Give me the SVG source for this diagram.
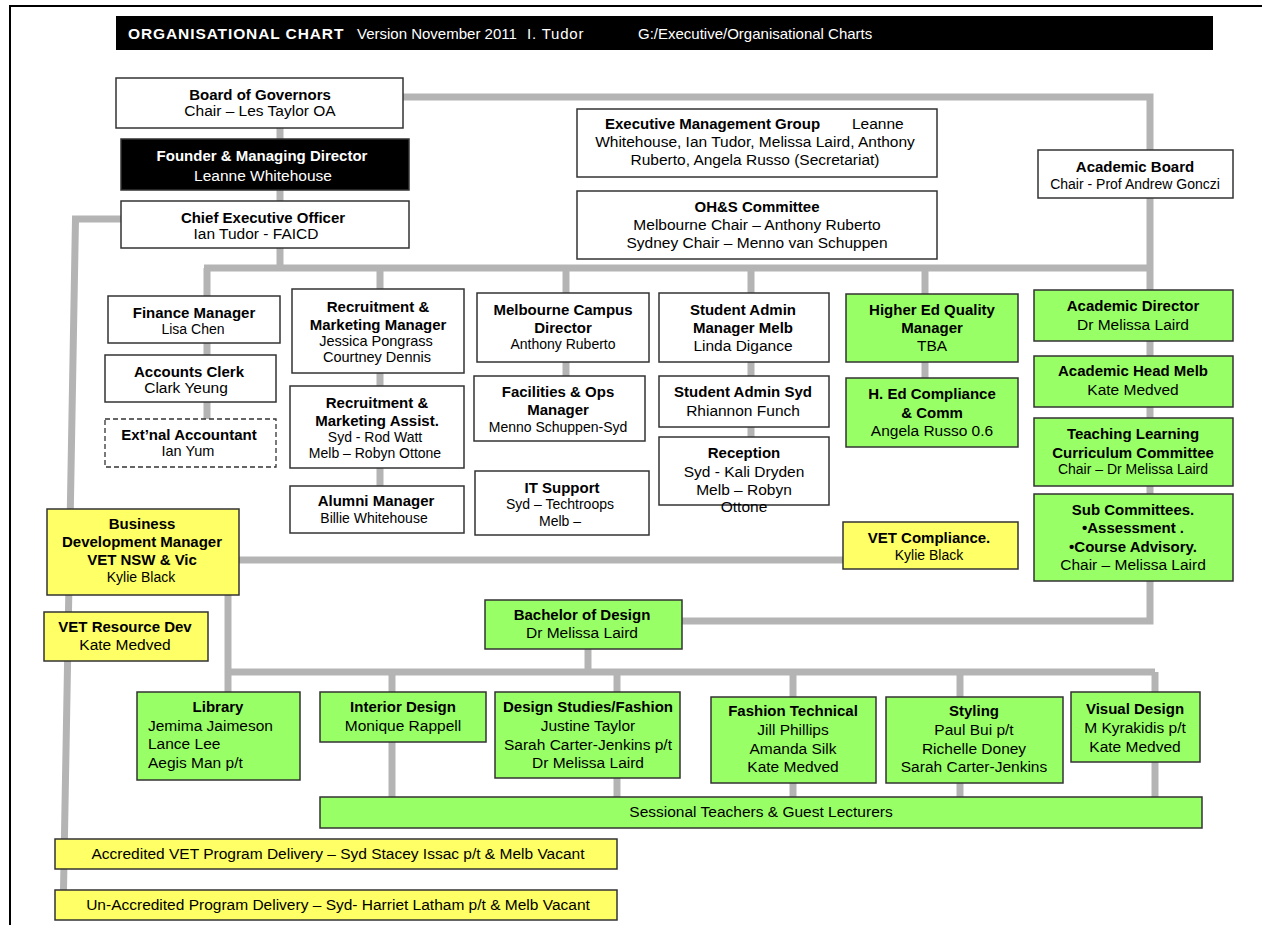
<svg xmlns="http://www.w3.org/2000/svg" width="1262" height="925" viewBox="0 0 1262 925">
<style>
text{font-family:"Liberation Sans",Arial,sans-serif;font-size:15.5px;fill:#000}
.b{font-weight:bold;font-size:15px}
.s{font-size:14px}
.c{text-anchor:middle}
.wt{fill:#fff}
.h{font-size:15px;fill:#fff}
.w{fill:#fff;stroke:#333;stroke-width:1.5}
.g{fill:#99ff66;stroke:#333;stroke-width:1.5}
.y{fill:#ffff66;stroke:#333;stroke-width:1.5}
.k{fill:#000;stroke:#333;stroke-width:1.5}
.d{fill:#fff;stroke:#333;stroke-width:1.3;stroke-dasharray:5 3}
.ln{fill:none;stroke:#b4b4b4;stroke-width:7;stroke-linejoin:miter}
</style>
<rect x="0" y="0" width="1262" height="925" fill="#fff"/>
<path d="M10,925 V6 H1262" fill="none" stroke="#000" stroke-width="2"/>
<g id="title">
<rect x="116" y="16" width="1097" height="34" fill="#000"/>
<text x="128" y="39" class="b wt" style="font-size:15.5px;letter-spacing:0.9px">ORGANISATIONAL  CHART</text>
<text x="357" y="39" class="h">Version November 2011</text>
<text x="527" y="39" class="h" style="letter-spacing:0.8px">I. Tudor</text>
<text x="638" y="39" class="h">G:/Executive/Organisational Charts</text>
</g>
<g id="connectors">
<path class="ln" d="M280,128 V268"/>
<path class="ln" d="M204,268 H1153"/>
<path class="ln" d="M403,97 H1150 V621 H682"/>
<path class="ln" d="M207,268 V419"/>
<path class="ln" d="M380,268 V486"/>
<path class="ln" d="M566,268 V376"/>
<path class="ln" d="M751,268 V437"/>
<path class="ln" d="M925,268 V378"/>
<path class="ln" d="M121,219 H75.5 L63.5,890"/>
<path class="ln" d="M239,560 H843"/>
<path class="ln" d="M228,595 V692"/>
<path class="ln" d="M228,672 H1155"/>
<path class="ln" d="M588,649 V672"/>
<path class="ln" d="M392,672 V797"/>
<path class="ln" d="M617,672 V797"/>
<path class="ln" d="M793,672 V797"/>
<path class="ln" d="M960,672 V797"/>
<path class="ln" d="M1155,672 V797"/>
</g>
<g id="board"><rect class="w" x="116" y="78" width="287" height="50"/>
<text x="260" y="100" class="b c">Board of Governors</text><text x="260" y="116" class="c">Chair – Les Taylor OA</text></g>
<g id="founder"><rect class="k" x="121" y="139" width="288" height="51"/>
<text x="262" y="161" class="b c wt">Founder &amp; Managing Director</text><text x="263" y="181" class="c wt">Leanne Whitehouse</text></g>
<g id="ceo"><rect class="w" x="121" y="201" width="288" height="47"/>
<text x="263" y="223" class="b c">Chief Executive Officer</text><text x="256" y="239" class="c">Ian Tudor - FAICD</text></g>
<g id="emg"><rect class="w" x="577" y="109" width="360" height="68"/>
<text x="605" y="129" class="b">Executive Management Group</text><text x="852" y="129">Leanne</text>
<text x="755" y="147" class="c">Whitehouse, Ian Tudor, Melissa Laird, Anthony</text>
<text x="755" y="165" class="c">Ruberto, Angela Russo (Secretariat)</text></g>
<g id="ohs"><rect class="w" x="577" y="191" width="360" height="68"/>
<text x="757" y="212" class="b c">OH&amp;S Committee</text>
<text x="757" y="230" class="c">Melbourne Chair – Anthony Ruberto</text>
<text x="757" y="248" class="c">Sydney Chair – Menno van Schuppen</text></g>
<g id="academic-board"><rect class="w" x="1038" y="150" width="195" height="48"/>
<text x="1135" y="172" class="b c">Academic Board</text><text x="1135" y="189" class="c s">Chair - Prof Andrew Gonczi</text></g>
<g id="finance"><rect class="w" x="108" y="296" width="172" height="47"/>
<text x="194" y="318" class="b c">Finance Manager</text><text x="193" y="334" class="c s">Lisa Chen</text></g>
<g id="accounts"><rect class="w" x="105" y="355" width="171" height="47"/>
<text x="189" y="377" class="b c">Accounts Clerk</text><text x="186" y="393" class="c">Clark Yeung</text></g>
<g id="extnal"><rect class="d" x="105" y="419" width="171" height="48"/>
<text x="189" y="440" class="b c">Ext’nal Accountant</text><text x="188" y="456" class="c" style="font-size:14.5px">Ian Yum</text></g>
<g id="rmm"><rect class="w" x="292" y="289" width="172" height="84"/>
<text x="378" y="312" class="b c">Recruitment &amp;</text><text x="378" y="330" class="b c">Marketing Manager</text>
<text x="376" y="346" class="c" style="font-size:14.5px">Jessica Pongrass</text><text x="377" y="362" class="c" style="font-size:14.5px">Courtney  Dennis</text></g>
<g id="rma"><rect class="w" x="290" y="386" width="174" height="82"/>
<text x="377" y="408" class="b c">Recruitment &amp;</text><text x="377" y="426" class="b c">Marketing  Assist.</text>
<text x="375" y="442" class="c s">Syd - Rod Watt</text><text x="375" y="458" class="c s">Melb – Robyn Ottone</text></g>
<g id="alumni"><rect class="w" x="290" y="486" width="174" height="47"/>
<text x="376" y="506" class="b c">Alumni Manager</text><text x="374" y="523" class="c s">Billie Whitehouse</text></g>
<g id="mcd"><rect class="w" x="477" y="293" width="172" height="69"/>
<text x="563" y="315" class="b c">Melbourne Campus</text><text x="563" y="333" class="b c">Director</text>
<text x="563" y="349" class="c s">Anthony Ruberto</text></g>
<g id="facilities"><rect class="w" x="474" y="376" width="171" height="65"/>
<text x="558" y="397" class="b c">Facilities &amp; Ops</text><text x="558" y="415" class="b c">Manager</text>
<text x="558" y="432" class="c s">Menno Schuppen-Syd</text></g>
<g id="it"><rect class="w" x="475" y="471" width="174" height="64"/>
<text x="562" y="493" class="b c">IT Support</text><text x="560" y="509" class="c s">Syd – Techtroops</text>
<text x="560" y="526" class="c s">Melb –</text></g>
<g id="samm"><rect class="w" x="659" y="293" width="170" height="69"/>
<text x="743" y="315" class="b c">Student Admin</text><text x="743" y="333" class="b c">Manager Melb</text>
<text x="743" y="351" class="c">Linda Digance</text></g>
<g id="sas"><rect class="w" x="659" y="376" width="170" height="51"/>
<text x="743" y="397" class="b c">Student Admin Syd</text><text x="743" y="416" class="c">Rhiannon Funch</text></g>
<g id="reception"><rect class="w" x="659" y="437" width="170" height="68"/>
<text x="744" y="458" class="b c">Reception</text><text x="744" y="477" class="c">Syd - Kali Dryden</text>
<text x="744" y="495" class="c">Melb – Robyn</text><text x="744" y="512" class="c">Ottone</text></g>
<g id="heqm"><rect class="g" x="846" y="294" width="172" height="68"/>
<text x="932" y="315" class="b c">Higher Ed Quality</text><text x="932" y="333" class="b c">Manager</text>
<text x="932" y="351" class="c">TBA</text></g>
<g id="hec"><rect class="g" x="846" y="378" width="172" height="69"/>
<text x="932" y="399" class="b c">H. Ed Compliance</text><text x="932" y="418" class="b c">&amp; Comm</text>
<text x="932" y="436" class="c">Angela Russo 0.6</text></g>
<g id="vet-compliance"><rect class="y" x="843" y="522" width="175" height="47"/>
<text x="929" y="543" class="b c">VET Compliance.</text><text x="929" y="560" class="c s">Kylie Black</text></g>
<g id="acad-director"><rect class="g" x="1034" y="290" width="199" height="51"/>
<text x="1133" y="311" class="b c">Academic Director</text><text x="1133" y="330" class="c">Dr Melissa Laird</text></g>
<g id="acad-head"><rect class="g" x="1034" y="356" width="199" height="51"/>
<text x="1133" y="376" class="b c">Academic Head Melb</text><text x="1133" y="395" class="c">Kate Medved</text></g>
<g id="tlcc"><rect class="g" x="1034" y="418" width="199" height="68"/>
<text x="1133" y="439" class="b c">Teaching Learning</text><text x="1133" y="458" class="b c">Curriculum Committee</text>
<text x="1133" y="474" class="c s">Chair – Dr Melissa Laird</text></g>
<g id="subcommittees"><rect class="g" x="1034" y="494" width="199" height="87"/>
<text x="1133" y="515" class="b c">Sub  Committees.</text><text x="1133" y="533" class="b c">•Assessment .</text>
<text x="1133" y="552" class="b c">•Course Advisory.</text><text x="1133" y="570" class="c">Chair – Melissa Laird</text></g>
<g id="bdm"><rect class="y" x="47" y="509" width="192" height="86"/>
<text x="142" y="529" class="b c">Business</text><text x="142" y="547" class="b c">Development Manager</text>
<text x="142" y="565" class="b c">VET NSW &amp; Vic</text><text x="141" y="582" class="c s">Kylie Black</text></g>
<g id="vet-resource"><rect class="y" x="44" y="612" width="164" height="49"/>
<text x="125" y="632" class="b c">VET Resource Dev</text><text x="125" y="650" class="c">Kate Medved</text></g>
<g id="bachelor"><rect class="g" x="485" y="600" width="197" height="49"/>
<text x="582" y="620" class="b c">Bachelor of Design</text><text x="582" y="638" class="c">Dr Melissa Laird</text></g>
<g id="library"><rect class="g" x="137" y="692" width="163" height="88"/>
<text x="218" y="712" class="b c">Library</text><text x="148" y="731">Jemima Jaimeson</text>
<text x="148" y="749">Lance Lee</text><text x="148" y="768">Aegis Man p/t</text></g>
<g id="interior"><rect class="g" x="320" y="692" width="166" height="50"/>
<text x="403" y="712" class="b c">Interior Design</text><text x="403" y="731" class="c">Monique Rappell</text></g>
<g id="design-studies"><rect class="g" x="495" y="692" width="185" height="86"/>
<text x="588" y="712" class="b c">Design Studies/Fashion</text><text x="588" y="731" class="c">Justine Taylor</text>
<text x="588" y="750" class="c">Sarah Carter-Jenkins p/t</text><text x="588" y="768" class="c">Dr Melissa Laird</text></g>
<g id="fashion-tech"><rect class="g" x="711" y="697" width="165" height="86"/>
<text x="793" y="716" class="b c">Fashion Technical</text><text x="793" y="735" class="c">Jill Phillips</text>
<text x="793" y="754" class="c">Amanda Silk</text><text x="793" y="772" class="c">Kate Medved</text></g>
<g id="styling"><rect class="g" x="886" y="697" width="177" height="86"/>
<text x="974" y="716" class="b c">Styling</text><text x="974" y="735" class="c">Paul Bui p/t</text>
<text x="974" y="754" class="c">Richelle Doney</text><text x="974" y="772" class="c">Sarah Carter-Jenkins</text></g>
<g id="visual"><rect class="g" x="1071" y="692" width="129" height="70"/>
<text x="1135" y="714" class="b c">Visual Design</text><text x="1135" y="733" class="c">M Kyrakidis p/t</text>
<text x="1135" y="752" class="c">Kate Medved</text></g>
<g id="sessional"><rect class="g" x="320" y="797" width="882" height="31"/>
<text x="761" y="817" class="c">Sessional Teachers &amp; Guest Lecturers</text></g>
<g id="accredited"><rect class="y" x="55" y="839" width="562" height="30"/>
<text x="338" y="859" class="c">Accredited VET Program Delivery – Syd Stacey Issac p/t &amp; Melb Vacant</text></g>
<g id="unaccredited"><rect class="y" x="55" y="890" width="562" height="30"/>
<text x="338" y="910" class="c">Un-Accredited Program Delivery – Syd- Harriet Latham p/t &amp; Melb Vacant</text></g>
</svg>
